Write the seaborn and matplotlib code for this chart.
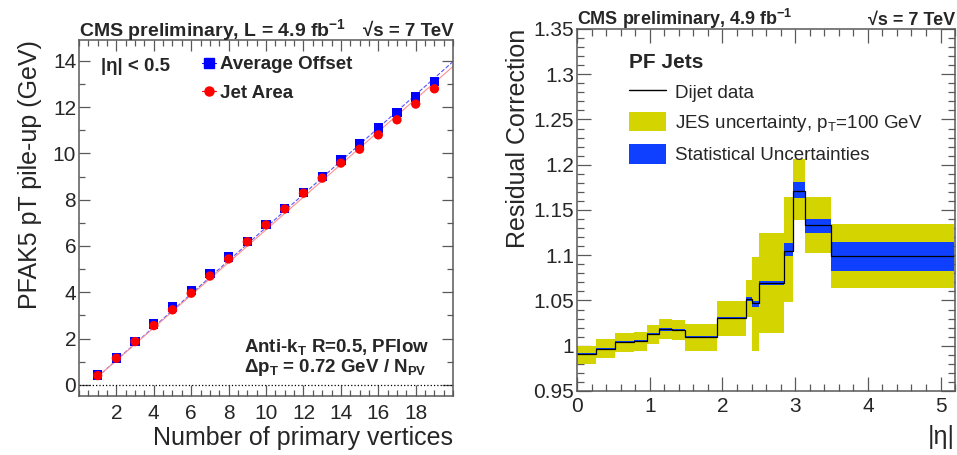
import matplotlib
matplotlib.use('Agg')
import matplotlib.pyplot as plt
from matplotlib.lines import Line2D
from matplotlib.patches import Patch
from matplotlib.ticker import MultipleLocator, FuncFormatter
import pandas as pd
import seaborn as sns

# left panel: pile-up offset vs number of primary vertices
npv = list(range(1, 20))
avg_offset = [0.42, 1.16, 1.88, 2.63, 3.37, 4.08, 4.80, 5.52, 6.20, 6.93,
              7.62, 8.31, 9.00, 9.72, 10.40, 11.09, 11.77, 12.43, 13.10]
jet_area = [0.40, 1.15, 1.87, 2.56, 3.24, 3.96, 4.70, 5.44, 6.18, 6.91,
            7.60, 8.28, 8.93, 9.58, 10.18, 10.80, 11.45, 12.13, 12.79]
fit_x = [1, 20]
avg_fit = [0.35, 13.97]
area_fit = [0.35, 13.76]

# right panel: residual correction vs |eta|
eta_edges = [0, 0.261, 0.522, 0.783, 0.957, 1.131, 1.305, 1.479, 1.930,
             2.322, 2.411, 2.500, 2.853, 2.964, 3.139, 3.489, 5.191]
residual = [0.9905, 0.9964, 1.004, 1.005, 1.0128, 1.018, 1.017, 1.0095,
            1.0307, 1.0515, 1.047, 1.069, 1.105, 1.171, 1.133, 1.099]
jes_up = [1.000, 1.007, 1.014, 1.015, 1.023, 1.029, 1.028, 1.0245,
          1.049, 1.0726, 1.098, 1.125, 1.164, 1.206, 1.164, 1.134]
jes_down = [0.980, 0.9865, 0.9927, 0.9938, 1.0015, 1.007, 1.006, 0.994,
            1.011, 1.0318, 0.9938, 1.014, 1.048, 1.139, 1.102, 1.064]
stat_up = [0.9915, 0.9974, 1.005, 1.006, 1.0138, 1.0192, 1.0182, 1.0105,
           1.0317, 1.054, 1.049, 1.071, 1.114, 1.181, 1.1405, 1.1146]
stat_down = [0.9895, 0.9954, 1.003, 1.004, 1.0118, 1.0168, 1.0158, 1.0085,
             1.0297, 1.049, 1.043, 1.0675, 1.099, 1.163, 1.125, 1.083]

sns.set_theme(style='ticks')
plt.rcParams['font.family'] = ['Liberation Sans', 'DejaVu Sans']
plt.rcParams['mathtext.fontset'] = 'custom'
plt.rcParams['mathtext.rm'] = 'Liberation Sans'
plt.rcParams['mathtext.it'] = 'Liberation Sans:italic'
plt.rcParams['mathtext.bf'] = 'Liberation Sans:bold'
plt.rcParams['mathtext.default'] = 'rm'

fig = plt.figure(figsize=(9.57, 4.55), dpi=100)
ax1 = fig.add_axes([0.0825, 0.1297, 0.391, 0.7825])
ax2 = fig.add_axes([0.603, 0.1407, 0.395, 0.7956])

for ax in (ax1, ax2):
    for s in ax.spines.values():
        s.set_color('0.35')
        s.set_linewidth(1.1)
    ax.tick_params(which='both', direction='in', top=True, right=True,
                   color='0.35', labelsize=15, width=0.9)

# ---- left panel
df = pd.DataFrame({'npv': npv, 'avg': avg_offset, 'area': jet_area})
ax1.axhline(0, color='black', ls=':', lw=0.9)
ax1.plot(fit_x, avg_fit, color='#5555ff', ls='--', lw=0.8)
ax1.plot(fit_x, area_fit, color='#ff9090', ls='-', lw=0.8)
sns.scatterplot(data=df, x='npv', y='avg', ax=ax1, marker='s', s=45,
                color='#0000ff', edgecolor='none', zorder=3)
sns.scatterplot(data=df, x='npv', y='area', ax=ax1, marker='o', s=45,
                color='#ff0000', edgecolor='none', zorder=4)
ax1.set_xlim(0, 20)
ax1.set_ylim(-0.48, 14.9)
ax1.set_xticks(range(2, 19, 2))
ax1.xaxis.set_minor_locator(MultipleLocator(0.5))
ax1.set_yticks(range(0, 15, 2))
ax1.yaxis.set_minor_locator(MultipleLocator(1))
ax1.tick_params(which='major', length=8)
ax1.tick_params(which='minor', length=4)
ax1.tick_params(axis='x', pad=6)
ax1.tick_params(axis='y', pad=2)
ax1.set_xlabel('Number of primary vertices', fontsize=18, loc='right')
ax1.xaxis.set_label_coords(1.0, -0.085)
ax1.set_ylabel('PFAK5 pT pile-up (GeV)', fontsize=18, loc='top')
ax1.yaxis.set_label_coords(-0.1, 1.0)

ax1.text(0.0, 1.012, r'CMS preliminary, L = 4.9 fb$^{\mathbf{-1}}$',
         transform=ax1.transAxes, fontsize=14, fontweight='bold', va='baseline')
ax1.text(1.0, 1.012, '√s = 7 TeV', transform=ax1.transAxes, fontsize=13.5,
         fontweight='bold', ha='right', va='baseline')
ax1.text(0.06, 0.925, '|η| < 0.5', transform=ax1.transAxes, fontsize=13.5,
         fontweight='bold', va='center')
ax1.text(0.44, 0.138, r'Anti-k$_{\mathbf{T}}$ R=0.5, PFlow',
         transform=ax1.transAxes, fontsize=13.5, fontweight='bold', va='center')
ax1.text(0.44, 0.079, r'Δp$_{\mathbf{T}}$ = 0.72 GeV / N$_{\mathbf{PV}}$',
         transform=ax1.transAxes, fontsize=13.5, fontweight='bold', va='center')

h_avg = Line2D([], [], color='#0000ff', ls='-', lw=0.8, marker='s', ms=6.5)
h_area = Line2D([], [], color='#ff0000', ls='-', lw=0.8, marker='o', ms=6.5)
leg1 = ax1.legend([h_avg, h_area], ['Average Offset', 'Jet Area'],
                  loc='upper left', bbox_to_anchor=(0.33, 0.955),
                  frameon=False, handlelength=0.7,
                  handletextpad=0.25, labelspacing=0.62, borderpad=0,
                  borderaxespad=0, prop={'weight': 'bold', 'size': 13.5})

# ---- right panel
yellow = '#d4d400'
blue = '#1040ff'
ax2.stairs(jes_up, eta_edges, baseline=jes_down, fill=True, color=yellow, lw=0)
ax2.stairs(stat_up, eta_edges, baseline=stat_down, fill=True, color=blue, lw=0)
ax2.stairs(residual, eta_edges, baseline=None, color='black', lw=0.9)
ax2.set_xlim(0, 5.2)
ax2.set_ylim(0.95, 1.35)
ax2.xaxis.set_major_locator(MultipleLocator(1))
ax2.xaxis.set_minor_locator(MultipleLocator(0.2))
ax2.yaxis.set_major_locator(MultipleLocator(0.05))
ax2.yaxis.set_minor_locator(MultipleLocator(0.01))
ax2.yaxis.set_major_formatter(FuncFormatter(lambda v, p: '%g' % round(v, 3)))
ax2.tick_params(which='major', length=10)
ax2.tick_params(which='minor', length=5)
ax2.tick_params(axis='x', pad=4)
ax2.tick_params(axis='y', pad=2)
ax2.set_xlabel('|η|', fontsize=18, loc='right')
ax2.xaxis.set_label_coords(1.0, -0.095)
ax2.set_ylabel('Residual Correction', fontsize=18, loc='top')
ax2.yaxis.set_label_coords(-0.125, 1.0)

ax2.text(0.0, 1.011, r'CMS preliminary, 4.9 fb$^{\mathbf{-1}}$',
         transform=ax2.transAxes, fontsize=13, fontweight='bold', va='baseline')
ax2.text(1.0, 1.011, '√s = 7 TeV', transform=ax2.transAxes, fontsize=13,
         fontweight='bold', ha='right', va='baseline')

h_line = Line2D([], [], color='black', lw=1.0)
h_jes = Patch(facecolor=yellow, edgecolor='none')
h_stat = Patch(facecolor=blue, edgecolor='none')
leg2 = ax2.legend([h_line, h_jes, h_stat],
                  ['Dijet data', r'JES uncertainty, p$_T$=100 GeV',
                   'Statistical Uncertainties'],
                  loc='upper left', bbox_to_anchor=(0.137, 0.935),
                  frameon=False, fontsize=13.5, handlelength=2.0,
                  handleheight=1.2, handletextpad=0.45, labelspacing=0.55,
                  borderpad=0, borderaxespad=0, title='PF Jets',
                  alignment='left',
                  title_fontproperties={'weight': 'bold', 'size': 15})

fig.savefig('out.png', dpi=100)
